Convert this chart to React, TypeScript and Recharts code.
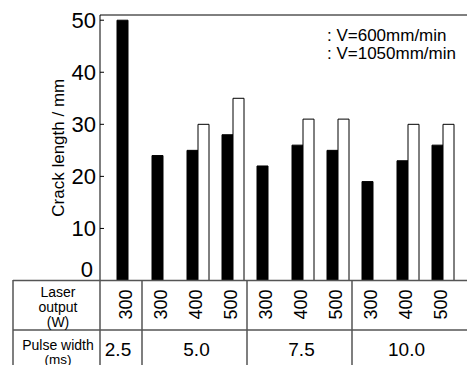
import { BarChart, Bar, XAxis, YAxis, Legend, ReferenceLine } from 'recharts';

// laser output (W) per column, pulse width (ms) per column
const laserOutputs = ['300', '300', '400', '500', '300', '400', '500', '300', '400', '500'];
const pulseWidths = ['2.5', '5.0', '5.0', '5.0', '7.5', '7.5', '7.5', '10.0', '10.0', '10.0'];
// crack length (mm)
const v600 = [50, 24, 25, 28, 22, 26, 25, 19, 23, 26];
const v1050 = [null, null, 30, 35, null, 31, 31, null, 30, 30];
const yTicks = [0, 10, 20, 30, 40, 50];

const data = laserOutputs.map((w, i) => ({
  key: `c${i}`,
  power: w,
  pulse: pulseWidths[i],
  v600: v600[i],
  v1050: v1050[i],
}));

const FONT = '"Liberation Sans", Arial, sans-serif';
const LINE = '#555';
const PAD_LEFT = 10;

const YTick = ({ x, y, payload }: any) => (
  <g>
    <line x1={x} x2={x + 4} y1={y} y2={y} stroke="#000" />
    <text
      x={payload.value === 0 ? x - 7 : x - 4}
      y={payload.value === 0 ? y - 11 : y}
      textAnchor="end"
      dominantBaseline="central"
      fontSize={22}
      fontFamily={FONT}
      fill="#000"
    >
      {payload.value}
    </text>
  </g>
);

const NoTick = () => <g />;

const XTick = ({ x, y, payload, index }: any) => {
  const band = payload.offset ? payload.offset * 2 : 35;
  const i = index ?? payload.index;
  const first = i === 0 || pulseWidths[i - 1] !== pulseWidths[i];
  let groupLabel = null;
  let divider = null;
  if (first) {
    let n = 1;
    while (pulseWidths[i + n] === pulseWidths[i]) n++;
    const left = i === 0 ? x - band / 2 - PAD_LEFT : x - band / 2 - 3;
    const right = x + (n - 0.5) * band - 3;
    const cx = i === 0 ? (left + right) / 2 - 3 : (left + right) / 2 + 2;
    groupLabel = (
      <text x={cx} y={y + 69} textAnchor="middle" dominantBaseline="central" fontSize={19} fontFamily={FONT} fill="#000">
        {pulseWidths[i]}
      </text>
    );
    if (i > 0) {
      divider = <line x1={left} x2={left} y1={y} y2={y + 90} stroke={LINE} strokeWidth={1.5} />;
    }
  }
  return (
    <g>
      {divider}
      <text
        x={0}
        y={0}
        transform={`translate(${x - 2},${y + 24}) rotate(-90)`}
        textAnchor="middle"
        dominantBaseline="central"
        fontSize={18}
        fontFamily={FONT}
        fill="#000"
      >
        {laserOutputs[i]}
      </text>
      {groupLabel}
    </g>
  );
};

const LegendText = () => (
  <div style={{ fontFamily: FONT, fontSize: 17, lineHeight: '18px', color: '#000', whiteSpace: 'nowrap' }}>
    <div>: V=600mm/min</div>
    <div>: V=1050mm/min</div>
  </div>
);

export default function App() {
  return (
    <div style={{ position: 'absolute', left: 0, top: 0, width: 467, height: 365, background: '#fff' }}>
      <BarChart
        width={467}
        height={365}
        data={data}
        margin={{ top: 15, right: 0, left: 0, bottom: 0 }}
        barGap={0}
        barSize={11}
      >
        <XAxis
          dataKey="key"
          height={84.5}
          padding={{ left: PAD_LEFT, right: 7 }}
          axisLine={false}
          tickLine={false}
          tickSize={0}
          tickMargin={0}
          interval={0}
          tick={<XTick />}
        />
        <YAxis
          yAxisId="left"
          width={100}
          domain={[0, 51]}
          ticks={yTicks}
          axisLine={{ stroke: '#000' }}
          tickLine={false}
          tickSize={0}
          tickMargin={0}
          tick={<YTick />}
          label={{
            value: 'Crack length / mm',
            angle: -90,
            position: 'insideLeft',
            dx: 53,
            dy: 0,
            style: { fontFamily: FONT, fontSize: 17, fill: '#000', textAnchor: 'middle' },
          }}
        />
        <YAxis
          yAxisId="right"
          orientation="right"
          width={0}
          mirror
          domain={[0, 51]}
          ticks={yTicks}
          axisLine={false}
          tick={<NoTick />}
          tickSize={3}
          tickLine={{ stroke: '#000' }}
        />
        <ReferenceLine yAxisId="left" y={51} stroke="#000" />
        <Legend
          layout="vertical"
          align="center"
          verticalAlign="middle"
          content={<LegendText />}
          wrapperStyle={{ position: 'absolute', left: 327, top: 27, width: 'auto', height: 'auto' }}
        />
        <Bar yAxisId="left" dataKey="v600" fill="#000" stroke="#000" isAnimationActive={false} />
        <Bar yAxisId="left" dataKey="v1050" fill="#fff" stroke="#000" isAnimationActive={false} />
      </BarChart>
      <svg
        width={467}
        height={365}
        style={{ position: 'absolute', left: 0, top: 0, pointerEvents: 'none' }}
        fontFamily={FONT}
      >
        <line x1={13} x2={467} y1={280.5} y2={280.5} stroke={LINE} strokeWidth={1.5} />
        <line x1={13} x2={467} y1={330} y2={330} stroke={LINE} strokeWidth={1.5} />
        <line x1={13} x2={13} y1={280} y2={365} stroke={LINE} strokeWidth={1.5} />
        <line x1={100} x2={100} y1={280} y2={365} stroke={LINE} strokeWidth={1.5} />
        <text x={58} y={292} textAnchor="middle" dominantBaseline="central" fontSize={14} fill="#000">Laser</text>
        <text x={58} y={307} textAnchor="middle" dominantBaseline="central" fontSize={14} fill="#000">output</text>
        <text x={58} y={322} textAnchor="middle" dominantBaseline="central" fontSize={14} fill="#000">(W)</text>
        <text x={58} y={345} textAnchor="middle" dominantBaseline="central" fontSize={14} fill="#000">Pulse width</text>
        <text x={58} y={359} textAnchor="middle" dominantBaseline="central" fontSize={13.5} fill="#000">(ms)</text>
      </svg>
    </div>
  );
}
